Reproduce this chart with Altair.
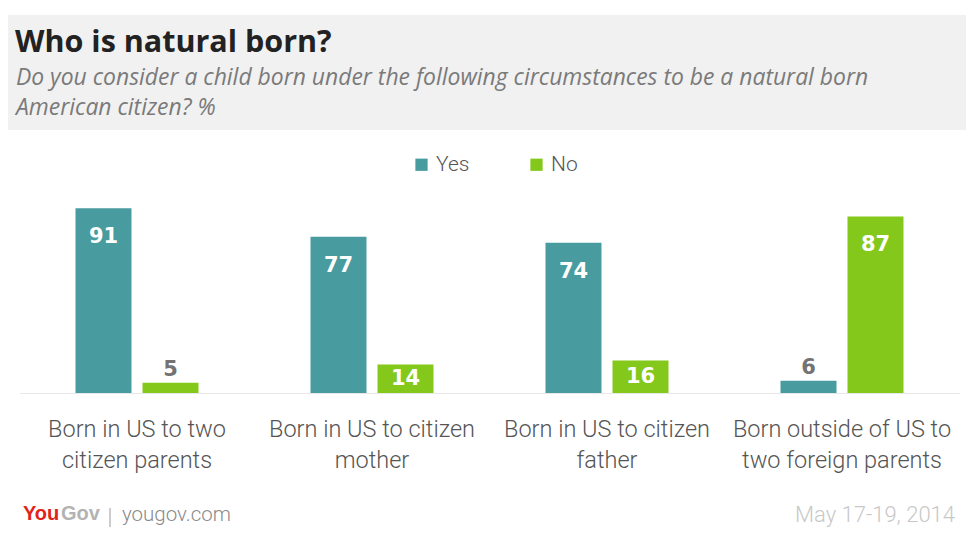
import altair as alt
import pandas as pd

# ---- data ----
categories = [
    "Born in US to two|citizen parents",
    "Born in US to citizen|mother",
    "Born in US to citizen|father",
    "Born outside of US to|two foreign parents",
]
series = ["Yes", "No"]
yes_values = [91, 77, 74, 6]
no_values = [5, 14, 16, 87]
colors = ["#489c9f", "#84c81b"]

title_text = "Who is natural born?"
subtitle_lines = [
    "Do you consider a child born under the following circumstances to be a natural born",
    "American citizen? %",
]
date_text = "May 17-19, 2014"

rows = []
for c, y, n in zip(categories, yes_values, no_values):
    rows.append({"category": c, "answer": "Yes", "value": y})
    rows.append({"category": c, "answer": "No", "value": n})
df = pd.DataFrame(rows)

W, H = 940, 203
one = alt.Data(values=[{}])

xenc = alt.X("category:N", sort=categories,
             scale=alt.Scale(paddingInner=0.4766, paddingOuter=0.2383),
             axis=alt.Axis(title=None, labelExpr="split(datum.label, '|')",
                           labelAngle=0, ticks=False, domain=True,
                           domainColor="#e8e8e8", domainWidth=1,
                           labelFont="Roboto", labelFontWeight=300,
                           labelFontSize=23.5, labelColor="#555555",
                           labelLineHeight=31, labelPadding=43, labelLimit=0,
                           labelBaseline="alphabetic"))
xoff = alt.XOffset("answer:N", sort=series,
                   scale=alt.Scale(paddingInner=0.1642, paddingOuter=0))
yenc = alt.Y("value:Q", scale=alt.Scale(domain=[0, 100]), axis=None)

header = alt.Chart(one).mark_rect(color="#f1f1f1").encode(
    x=alt.value(-11.5), x2=alt.value(946.5), y=alt.value(-175), y2=alt.value(-60))

title = alt.Chart(one).mark_text(
    align="left", baseline="alphabetic", font="Open Sans", fontWeight="bold",
    fontSize=30.5, color="#222222").encode(
    x=alt.value(-4.5), y=alt.value(-138), text=alt.value(title_text))

subtitle = alt.Chart(one).mark_text(
    align="left", baseline="alphabetic", font="Open Sans", fontStyle="italic",
    fontSize=22.9, color="#7a7a7a", lineHeight=30).encode(
    x=alt.value(-3.5), y=alt.value(-105), text=alt.value(subtitle_lines))

bars = alt.Chart(df).mark_bar().encode(
    x=xenc, xOffset=xoff, y=yenc,
    color=alt.Color("answer:N", sort=series,
                    scale=alt.Scale(domain=series, range=colors),
                    legend=alt.Legend(title=None, orient="none", direction="horizontal",
                                      legendX=391.5, legendY=-36, symbolType="square",
                                      symbolSize=150, symbolStrokeWidth=0,
                                      labelFont="Roboto", labelFontWeight=300,
                                      labelFontSize=21, labelColor="#555555",
                                      labelOffset=4, columnPadding=56, padding=0)),
)

inside = alt.Chart(df).transform_filter("datum.value >= 10").transform_calculate(
    ly="max(datum.value - 14.3, datum.value / 2)"
).mark_text(font="DejaVu Sans", fontWeight="bold", fontSize=21,
            color="white", baseline="middle").encode(
    x=alt.X("category:N", sort=categories), xOffset=xoff,
    y=alt.Y("ly:Q", scale=alt.Scale(domain=[0, 100])),
    text="value:Q")

outside = alt.Chart(df).transform_filter("datum.value < 10").mark_text(
    font="DejaVu Sans", fontWeight="bold", fontSize=21, color="#737373",
    baseline="middle", dy=-13).encode(
    x=alt.X("category:N", sort=categories), xOffset=xoff,
    y=alt.Y("value:Q", scale=alt.Scale(domain=[0, 100])),
    text="value:Q")

you = alt.Chart(one).mark_text(
    align="left", baseline="alphabetic", font="Liberation Sans", fontWeight="bold",
    fontSize=20, color="#e2231a").encode(
    x=alt.value(3.5), y=alt.value(330), text=alt.value("You"))
gov = alt.Chart(one).mark_text(
    align="left", baseline="alphabetic", font="Liberation Sans", fontWeight="bold",
    fontSize=20, color="#b3b3b3").encode(
    x=alt.value(41.5), y=alt.value(330), text=alt.value("Gov"))
sep = alt.Chart(one).mark_rule(color="#999999", strokeWidth=1).encode(
    x=alt.value(90.5), y=alt.value(318), y2=alt.value(337))
site = alt.Chart(one).mark_text(
    align="left", baseline="alphabetic", font="Roboto", fontWeight=300,
    fontSize=20.5, color="#8a8a8a").encode(
    x=alt.value(102.5), y=alt.value(331), text=alt.value("yougov.com"))
date = alt.Chart(one).mark_text(
    align="right", baseline="alphabetic", font="Roboto", fontWeight=300,
    fontSize=22, color="#c8c8c8").encode(
    x=alt.value(935.5), y=alt.value(332), text=alt.value(date_text))

chart = alt.layer(header, title, subtitle, bars, inside, outside,
                  you, gov, sep, site, date).properties(
    width=W, height=H,
    autosize=alt.AutoSizeParams(type="none"),
    padding={"left": 11.5, "right": 6.5, "top": 182, "bottom": 146},
).configure_view(stroke=None)

chart.save("out.html", embed_options={"renderer": "svg", "actions": False})
